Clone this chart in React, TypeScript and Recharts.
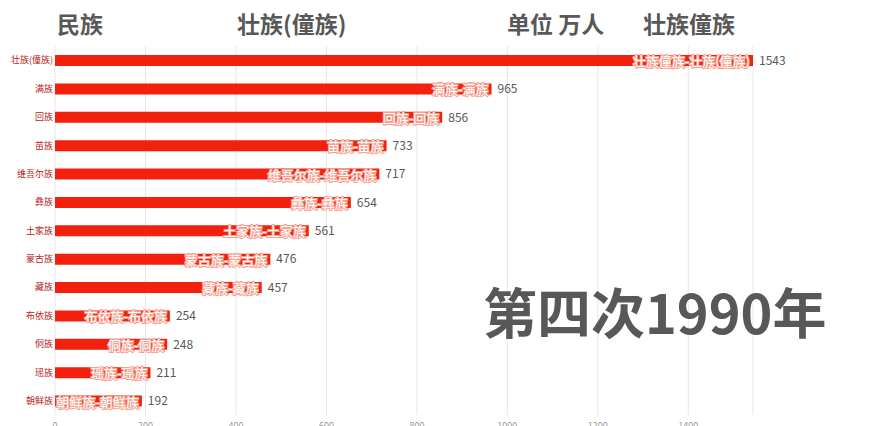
import { BarChart, Bar, XAxis, YAxis, CartesianGrid, LabelList } from 'recharts';

const NATIONS = ['壮族(僮族)', '满族', '回族', '苗族', '维吾尔族', '彝族', '土家族', '蒙古族', '藏族', '布依族', '侗族', '瑶族', '朝鲜族'];
const ALIASES = ['壮族僮族', '满族', '回族', '苗族', '维吾尔族', '彝族', '土家族', '蒙古族', '藏族', '布依族', '侗族', '瑶族', '朝鲜族'];
const POPULATION = [1543, 965, 856, 733, 717, 654, 561, 476, 457, 254, 248, 211, 192];
const X_TICKS = [0, 200, 400, 600, 800, 1000, 1200, 1400];

const RED = '#f2200d';
const GREY = '#585858';

const chartData = NATIONS.map((name, i) => ({
  name,
  label: `${ALIASES[i]}-${name}`,
  value: POPULATION[i],
}));

const headStyle: React.CSSProperties = {
  position: 'absolute',
  top: 8,
  fontSize: 23,
  fontWeight: 700,
  color: GREY,
  fontFamily: '"Noto Sans CJK SC", sans-serif',
  lineHeight: '30px',
  whiteSpace: 'nowrap',
};

// white name inside the bar end, with a soft red halo
function InsideLabel(props: any) {
  const { x, y, width, height, value } = props;
  return (
    <text
      x={x + width - 3}
      y={y + height / 2}
      textAnchor="end"
      dominantBaseline="central"
      fontSize={13}
      fill="#fff"
      stroke="#f7a090"
      strokeWidth={2}
      style={{ paintOrder: 'stroke' }}
    >
      {value}
    </text>
  );
}

export default function App() {
  return (
    <div
      style={{
        position: 'absolute',
        left: 0,
        top: 0,
        width: 870,
        height: 426,
        overflow: 'hidden',
        background: '#fff',
        fontFamily: '"Noto Sans CJK SC", sans-serif',
      }}
    >
      <BarChart
        width={870}
        height={450}
        data={chartData}
        layout="vertical"
        margin={{ top: 46, right: 117, bottom: 5, left: 0 }}
      >
        <CartesianGrid horizontal={false} stroke="#e6e6e6" />
        <XAxis
          type="number"
          domain={[0, 1543]}
          ticks={X_TICKS}
          height={30}
          axisLine={false}
          tickLine={false}
          tick={{ fill: '#999', fontSize: 9 }}
        />
        <YAxis
          dataKey="name"
          type="category"
          width={55}
          axisLine={false}
          tickLine={false}
          tickSize={0}
          tickMargin={2}
          interval={0}
          tick={{ fill: '#b8231a', fontSize: 9 }}
        />
        <Bar dataKey="value" fill={RED} barSize={11} isAnimationActive={false}>
          <LabelList dataKey="label" content={InsideLabel} />
          <LabelList dataKey="value" position="right" offset={6} fill={GREY} fontSize={12} />
        </Bar>
      </BarChart>

      <div style={{ ...headStyle, left: 57 }}>民族</div>
      <div style={{ ...headStyle, left: 237 }}>壮族(僮族)</div>
      <div style={{ ...headStyle, left: 507 }}>单位 万人</div>
      <div style={{ ...headStyle, left: 643 }}>壮族僮族</div>
      <div
        style={{
          position: 'absolute',
          left: 483,
          top: 271,
          fontSize: 54,
          fontWeight: 700,
          color: GREY,
          lineHeight: '80px',
          whiteSpace: 'nowrap',
        }}
      >
        第四次1990年
      </div>
    </div>
  );
}
